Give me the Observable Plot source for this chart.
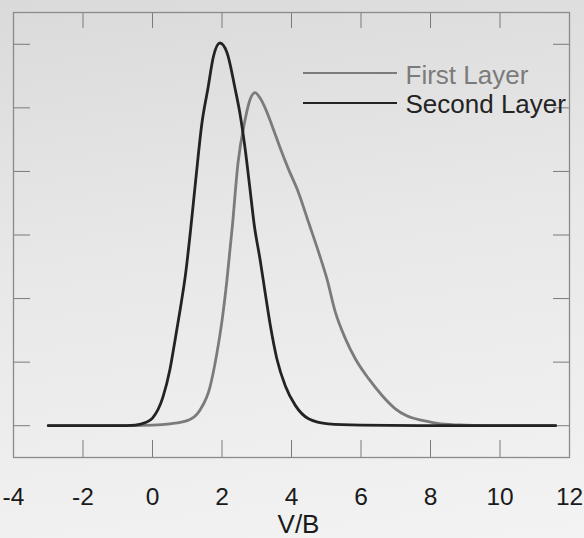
<!DOCTYPE html>
<html><head><meta charset="utf-8">
<script src="https://cdn.jsdelivr.net/npm/d3@7"></script>
<script src="https://cdn.jsdelivr.net/npm/@observablehq/plot@0.6"></script>
<style>
html,body{margin:0;padding:0;}
body{width:584px;height:538px;overflow:hidden;background:linear-gradient(172deg,#dadada 0%,#e8e8e8 45%,#f3f3f3 100%);}
</style></head><body><div id="chart"></div>
<script>
const seriesNames = ["First Layer", "Second Layer"];
const seriesColors = ["#7b7b7b", "#232323"];

const firstX = [-3, -1, 0, 0.5, 1.0, 1.36, 1.65, 1.85, 2.0, 2.14, 2.3, 2.46, 2.66, 2.8, 2.95, 3.1, 3.24, 3.44, 3.68, 3.91, 4.2, 4.49, 4.78, 5.02, 5.26, 5.55, 5.84, 6.22, 6.6, 6.98, 7.3, 7.8, 8.3, 9, 10, 11.6];
const firstY = [0, 0, 0.01, 0.03, 0.08, 0.24, 0.6, 1.13, 1.65, 2.28, 3.15, 4.13, 4.8, 5.12, 5.24, 5.15, 5.0, 4.72, 4.36, 4.04, 3.67, 3.2, 2.73, 2.31, 1.79, 1.37, 1.05, 0.74, 0.48, 0.27, 0.16, 0.08, 0.03, 0.01, 0, 0];

const secondX = [-3, -1, -0.5, -0.2, 0, 0.3, 0.5, 0.65, 0.8, 0.95, 1.1, 1.25, 1.42, 1.6, 1.75, 1.94, 2.15, 2.37, 2.52, 2.66, 2.8, 2.93, 3.1, 3.24, 3.39, 3.58, 3.82, 4.11, 4.49, 5.06, 6, 8, 11.6];
const secondY = [0, 0, 0.01, 0.05, 0.12, 0.45, 0.88, 1.35, 1.84, 2.38, 3.1, 3.9, 4.75, 5.32, 5.8, 6.02, 5.86, 5.32, 4.9, 4.38, 3.75, 3.15, 2.6, 2.1, 1.58, 1.05, 0.63, 0.32, 0.11, 0.03, 0.01, 0, 0];

const xTicks = [-4, -2, 0, 2, 4, 6, 8, 10, 12];
const xTickLabels = ["-4", "-2", "0", "2", "4", "6", "8", "10", "12"];
const yTicks = [0, 1, 2, 3, 4, 5, 6];
const xLabel = "V/B";

const rows = [];
[[firstX, firstY], [secondX, secondY]].forEach(([xs, ys], i) =>
  xs.forEach((x, j) => rows.push({series: seriesNames[i], x, y: ys[j]})));

const font = '"Liberation Sans","Arial",sans-serif';
const tickColor = "#7a7a7a";
const legendDy = [61, 91];
const textDy = [62.7, 91.7];

const legendLines = (index, scales, values, dims) => {
  const g = d3.create("svg:g");
  seriesNames.forEach((n, i) => {
    const yy = dims.marginTop + legendDy[i];
    g.append("line")
      .attr("x1", dims.marginLeft + 290).attr("x2", dims.marginLeft + 384)
      .attr("y1", yy).attr("y2", yy)
      .attr("stroke", seriesColors[i]).attr("stroke-width", 2);
  });
  return g.node();
};

const plot = Plot.plot({
  width: 584, height: 538,
  marginLeft: 13, marginRight: 15, marginTop: 12, marginBottom: 81,
  style: {background: "transparent", fontFamily: font, fontSize: "24px", color: "#1a1a1a", overflow: "visible"},
  x: {domain: [-4, 12], label: null, axis: null},
  y: {domain: [-0.5, 6.5], label: null, axis: null},
  color: {domain: seriesNames, range: seriesColors},
  marks: [
    Plot.ruleX(xTicks, {stroke: tickColor, insetTop: 428}),
    Plot.ruleX(xTicks, {stroke: tickColor, insetBottom: 429}),
    Plot.ruleY(yTicks, {stroke: tickColor, insetRight: 539}),
    Plot.ruleY(yTicks, {stroke: tickColor, insetLeft: 540}),
    Plot.frame({stroke: "#8a8a8a", strokeWidth: 1.3}),
    Plot.text(xTicks, {x: d => d, text: (d, i) => xTickLabels[i], frameAnchor: "bottom", dy: 30, lineAnchor: "top", fontSize: 24.5, fill: "#1a1a1a", ariaLabel: "xticks"}),
    Plot.text([xLabel], {text: d => d, frameAnchor: "bottom", dx: 7, dy: 57, lineAnchor: "top", fontSize: 26, fill: "#1a1a1a", ariaLabel: "xlabel"}),
    Plot.line(rows, {x: "x", y: "y", z: "series", stroke: "series", strokeWidth: 2.8, curve: "monotone-x"}),
    legendLines,
    ...seriesNames.map((name, i) => Plot.text([name], {text: d => d, frameAnchor: "top-left", dx: 392, dy: textDy[i], textAnchor: "start", lineAnchor: "middle", fill: seriesColors[i], fontSize: 26, ariaLabel: "legend"}))
  ]
});

function condense(selector, s) {
  plot.querySelectorAll(selector).forEach(t => {
    let tr = t.getAttribute("transform") || "";
    const x = t.getAttribute("x"), y = t.getAttribute("y");
    if (x != null || y != null) {
      tr += ` translate(${x || 0},${y || 0})`;
      t.removeAttribute("x"); t.removeAttribute("y");
    }
    t.setAttribute("transform", `${tr} scale(${s},1)`);
  });
}
condense('g[aria-label="legend"] text', 0.875);
condense('g[aria-label="xlabel"] text', 0.86);
condense('g[aria-label="xticks"] text', 0.95);
document.getElementById("chart").appendChild(plot);
</script>
</body></html>
